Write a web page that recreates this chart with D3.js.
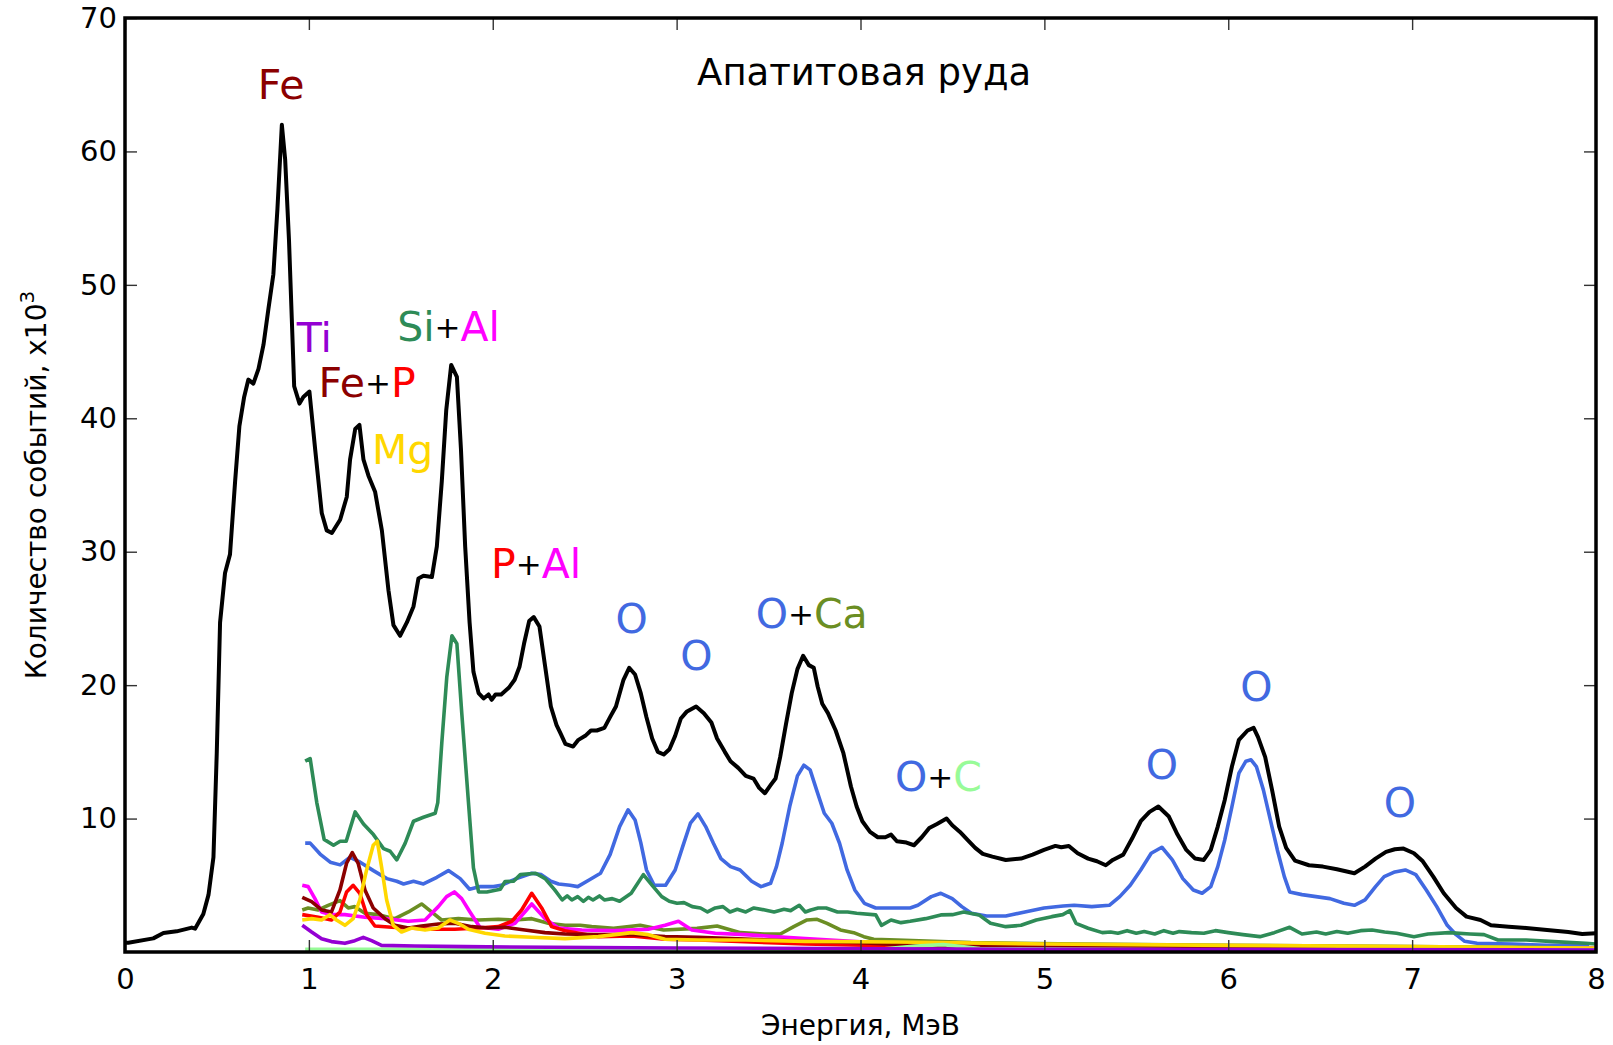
<!DOCTYPE html>
<html>
<head>
<meta charset="utf-8">
<script src="https://cdn.jsdelivr.net/npm/d3@7"></script>
<style>
  body { margin: 0; background: #fff; }
  svg text { font-family: "DejaVu Sans", sans-serif; }
</style>
</head>
<body>
<svg id="drawing_region"></svg>
<script>
// energy (MeV), counts (x10^3)
const totalSpectrum = [[0.00,0.7],[0.018,0.69],[0.154,1.02],[0.209,1.42],[0.281,1.55],[0.363,1.83],[0.381,1.75],[0.426,2.85],[0.454,4.28],[0.481,7.1],[0.499,14.9],[0.517,24.7],[0.544,28.4],[0.571,29.8],[0.599,35.3],[0.622,39.4],[0.648,41.6],[0.671,42.9],[0.698,42.6],[0.726,43.7],[0.753,45.5],[0.780,48.2],[0.807,50.8],[0.829,55.7],[0.853,62.0],[0.871,59.4],[0.892,53.3],[0.907,47.5],[0.920,42.4],[0.949,41.1],[0.970,41.6],[1.003,42.0],[1.034,37.7],[1.070,32.9],[1.097,31.6],[1.125,31.4],[1.170,32.4],[1.206,34.1],[1.224,36.9],[1.252,39.2],[1.275,39.5],[1.297,36.9],[1.324,35.7],[1.360,34.5],[1.397,31.6],[1.433,27.1],[1.460,24.5],[1.496,23.7],[1.533,24.7],[1.569,25.9],[1.596,28.0],[1.623,28.2],[1.669,28.1],[1.696,30.4],[1.723,35.3],[1.747,40.6],[1.774,44.0],[1.805,43.1],[1.827,37.7],[1.850,30.4],[1.874,24.7],[1.895,21.0],[1.923,19.4],[1.950,19.0],[1.977,19.3],[1.994,18.9],[2.015,19.3],[2.046,19.3],[2.087,19.8],[2.119,20.4],[2.146,21.4],[2.170,23.1],[2.198,24.8],[2.223,25.1],[2.254,24.4],[2.285,21.4],[2.316,18.4],[2.347,17.0],[2.368,16.4],[2.395,15.6],[2.437,15.4],[2.466,15.9],[2.503,16.2],[2.534,16.6],[2.566,16.6],[2.607,16.8],[2.638,17.6],[2.670,18.4],[2.711,20.4],[2.742,21.3],[2.774,20.8],[2.805,19.4],[2.836,17.6],[2.867,16.0],[2.898,15.0],[2.930,14.8],[2.961,15.2],[2.992,16.2],[3.023,17.5],[3.054,18.0],[3.106,18.4],[3.148,17.9],[3.189,17.2],[3.220,16.0],[3.262,15.0],[3.293,14.3],[3.335,13.8],[3.376,13.2],[3.418,13.0],[3.449,12.3],[3.480,11.9],[3.511,12.5],[3.538,13.0],[3.563,14.6],[3.595,17.1],[3.626,19.4],[3.657,21.2],[3.688,22.2],[3.719,21.5],[3.746,21.3],[3.767,19.9],[3.792,18.6],[3.823,17.9],[3.865,16.6],[3.907,14.9],[3.948,12.4],[3.979,10.9],[4.010,9.8],[4.052,9.0],[4.094,8.6],[4.135,8.6],[4.166,8.8],[4.198,8.3],[4.250,8.2],[4.291,8.0],[4.333,8.6],[4.374,9.3],[4.416,9.6],[4.468,10.0],[4.499,9.5],[4.541,9.0],[4.582,8.4],[4.624,7.8],[4.665,7.35],[4.717,7.15],[4.790,6.9],[4.873,7.0],[4.936,7.3],[4.998,7.65],[5.060,7.95],[5.092,7.85],[5.133,7.95],[5.181,7.4],[5.238,7.0],[5.286,6.8],[5.334,6.5],[5.372,6.9],[5.429,7.3],[5.477,8.5],[5.524,9.8],[5.572,10.5],[5.620,10.9],[5.677,10.15],[5.724,8.8],[5.772,7.65],[5.820,7.0],[5.867,6.9],[5.905,7.65],[5.943,9.4],[5.981,11.4],[6.020,13.9],[6.058,15.9],[6.105,16.6],[6.138,16.8],[6.162,16.1],[6.201,14.6],[6.239,12.1],[6.277,9.4],[6.315,7.8],[6.363,6.85],[6.439,6.5],[6.515,6.4],[6.591,6.2],[6.686,5.9],[6.744,6.4],[6.801,7.0],[6.858,7.5],[6.906,7.7],[6.953,7.75],[7.010,7.4],[7.058,6.8],[7.115,5.65],[7.172,4.4],[7.239,3.3],[7.296,2.65],[7.372,2.4],[7.429,2.0],[7.525,1.9],[7.620,1.8],[7.734,1.65],[7.849,1.5],[7.925,1.35],[8.0,1.4]];

const oxygen = [[0.980,8.16],[1.007,8.16],[1.061,7.34],[1.116,6.73],[1.170,6.53],[1.224,7.1],[1.279,6.73],[1.351,6.1],[1.424,5.5],[1.478,5.3],[1.515,5.1],[1.569,5.3],[1.623,5.1],[1.696,5.6],[1.759,6.1],[1.823,5.5],[1.874,4.7],[1.932,4.9],[2.004,4.9],[2.046,5.0],[2.129,5.5],[2.212,5.9],[2.264,5.8],[2.316,5.3],[2.358,5.1],[2.420,5.0],[2.462,4.9],[2.524,5.4],[2.586,5.9],[2.638,7.3],[2.690,9.4],[2.736,10.65],[2.774,9.9],[2.805,8.2],[2.836,6.15],[2.878,5.0],[2.940,5.0],[2.992,6.15],[3.033,7.9],[3.075,9.65],[3.116,10.35],[3.158,9.4],[3.200,8.15],[3.241,7.0],[3.293,6.4],[3.345,6.15],[3.408,5.3],[3.459,4.9],[3.511,5.15],[3.543,6.4],[3.574,8.15],[3.615,10.9],[3.657,13.2],[3.692,14.0],[3.726,13.65],[3.761,12.15],[3.803,10.4],[3.844,9.65],[3.886,8.15],[3.927,6.15],[3.969,4.65],[4.021,3.65],[4.083,3.3],[4.166,3.3],[4.270,3.3],[4.312,3.5],[4.385,4.15],[4.437,4.4],[4.499,4.0],[4.551,3.4],[4.603,2.9],[4.686,2.7],[4.790,2.7],[4.894,3.0],[4.998,3.3],[5.102,3.45],[5.162,3.5],[5.258,3.4],[5.353,3.5],[5.410,4.15],[5.467,5.0],[5.524,6.15],[5.581,7.4],[5.639,7.85],[5.696,6.9],[5.753,5.5],[5.810,4.65],[5.858,4.4],[5.905,4.9],[5.943,6.4],[5.981,8.4],[6.020,10.9],[6.058,13.4],[6.096,14.3],[6.124,14.4],[6.153,13.9],[6.191,12.15],[6.229,9.9],[6.267,7.65],[6.305,5.65],[6.334,4.5],[6.401,4.3],[6.477,4.15],[6.553,4.0],[6.629,3.65],[6.686,3.5],[6.744,3.9],[6.801,4.9],[6.848,5.65],[6.906,6.0],[6.963,6.15],[7.020,5.8],[7.077,4.65],[7.134,3.4],[7.191,2.0],[7.239,1.3],[7.286,0.8],[7.353,0.65],[7.544,0.6],[7.734,0.5],[7.963,0.5]];

const silicon = [[0.980,14.3],[1.007,14.5],[1.043,11.2],[1.083,8.44],[1.134,8.0],[1.170,8.3],[1.203,8.3],[1.252,10.5],[1.297,9.6],[1.351,8.8],[1.406,7.75],[1.442,7.55],[1.478,6.9],[1.524,8.16],[1.569,9.8],[1.623,10.1],[1.687,10.4],[1.701,11.2],[1.723,15.7],[1.750,20.6],[1.778,23.7],[1.805,23.1],[1.832,17.8],[1.868,11.2],[1.895,6.3],[1.923,4.5],[1.968,4.5],[2.041,4.7],[2.067,5.28],[2.113,5.3],[2.150,5.8],[2.233,5.9],[2.285,5.5],[2.337,4.65],[2.378,3.9],[2.405,4.2],[2.430,3.9],[2.462,4.15],[2.493,3.8],[2.520,4.1],[2.545,3.9],[2.580,4.2],[2.607,3.9],[2.650,4.0],[2.690,3.8],[2.753,4.4],[2.819,5.8],[2.867,5.0],[2.919,4.15],[2.960,3.8],[3.002,3.65],[3.040,3.7],[3.085,3.4],[3.130,3.3],[3.168,3.0],[3.210,3.3],[3.252,3.4],[3.290,3.0],[3.330,3.2],[3.376,3.0],[3.420,3.3],[3.480,3.15],[3.530,3.0],[3.584,3.2],[3.620,3.1],[3.667,3.5],[3.700,3.0],[3.730,3.15],[3.770,3.3],[3.813,3.3],[3.875,3.0],[3.930,3.0],[3.979,2.9],[4.083,2.78],[4.114,2.0],[4.166,2.4],[4.220,2.2],[4.270,2.3],[4.354,2.5],[4.437,2.78],[4.500,2.8],[4.561,3.0],[4.644,2.78],[4.707,2.15],[4.790,1.9],[4.873,2.0],[4.956,2.4],[5.040,2.65],[5.100,2.8],[5.139,3.1],[5.172,2.15],[5.238,1.78],[5.315,1.45],[5.360,1.5],[5.400,1.4],[5.450,1.6],[5.500,1.4],[5.543,1.53],[5.600,1.35],[5.650,1.6],[5.700,1.4],[5.734,1.53],[5.800,1.45],[5.867,1.4],[5.930,1.6],[6.000,1.45],[6.080,1.3],[6.172,1.15],[6.250,1.45],[6.334,1.85],[6.401,1.35],[6.480,1.5],[6.530,1.35],[6.591,1.53],[6.650,1.4],[6.720,1.6],[6.782,1.65],[6.850,1.5],[6.915,1.4],[7.010,1.15],[7.086,1.35],[7.200,1.45],[7.315,1.35],[7.391,1.3],[7.467,0.9],[7.620,0.9],[7.772,0.78],[7.944,0.65],[8.0,0.6]];

const calcium = [[0.964,3.15],[0.996,3.3],[1.051,3.15],[1.105,3.5],[1.169,3.85],[1.214,3.3],[1.250,3.4],[1.305,2.9],[1.377,2.8],[1.468,2.5],[1.541,3.0],[1.613,3.6],[1.667,3.0],[1.722,2.4],[1.813,2.5],[1.921,2.4],[2.030,2.45],[2.121,2.4],[2.212,2.5],[2.302,2.15],[2.393,2.0],[2.476,2.0],[2.538,1.9],[2.657,1.77],[2.802,2.0],[2.929,1.65],[3.111,1.77],[3.220,1.95],[3.347,1.45],[3.474,1.35],[3.564,1.35],[3.637,1.9],[3.709,2.4],[3.764,2.45],[3.818,2.15],[3.891,1.65],[3.963,1.45],[4.018,1.15],[4.072,0.95],[4.199,0.9],[4.600,0.7],[5.200,0.6],[6.000,0.5],[7.000,0.4],[8.000,0.3]];

const aluminium = [[0.964,5.0],[0.996,4.9],[1.033,4.0],[1.069,3.0],[1.123,2.8],[1.196,2.8],[1.305,2.6],[1.414,2.5],[1.541,2.3],[1.632,2.4],[1.704,3.4],[1.749,4.15],[1.791,4.5],[1.831,4.0],[1.876,3.0],[1.930,1.85],[2.030,1.7],[2.121,2.15],[2.212,3.6],[2.284,2.5],[2.357,1.8],[2.484,1.65],[2.665,1.6],[2.846,1.7],[2.937,2.0],[3.010,2.3],[3.083,1.65],[3.210,1.4],[3.373,1.3],[3.700,1.0],[4.200,0.6],[5.000,0.4],[6.000,0.35],[7.000,0.3],[8.000,0.3]];

const phosphorus = [[0.964,2.8],[1.051,2.6],[1.123,2.4],[1.169,3.0],[1.205,4.5],[1.241,5.0],[1.277,4.4],[1.314,2.8],[1.359,1.95],[1.450,1.85],[1.541,1.8],[1.668,1.7],[1.794,1.7],[1.921,1.8],[2.030,1.9],[2.103,2.3],[2.157,3.15],[2.212,4.4],[2.266,3.3],[2.320,1.9],[2.393,1.6],[2.574,1.15],[2.756,1.2],[2.937,0.95],[3.119,0.9],[3.300,0.8],[3.700,0.6],[4.200,0.45],[5.000,0.3],[6.000,0.25],[7.000,0.2],[8.000,0.2]];

const iron = [[0.964,4.1],[1.015,3.77],[1.069,3.15],[1.123,3.0],[1.169,4.65],[1.205,6.65],[1.236,7.45],[1.268,6.65],[1.305,4.65],[1.350,3.3],[1.414,2.5],[1.468,2.0],[1.541,1.8],[1.613,1.95],[1.704,2.1],[1.794,2.15],[1.885,1.9],[1.976,1.8],[2.066,1.85],[2.175,1.65],[2.284,1.45],[2.393,1.35],[2.574,1.3],[2.756,1.3],[2.937,1.15],[3.119,1.1],[3.300,1.0],[3.700,0.8],[4.000,0.7],[4.300,0.5],[5.000,0.35],[6.000,0.3],[7.000,0.25],[8.000,0.2]];

const magnesium = [[0.964,2.4],[1.015,2.5],[1.069,2.4],[1.114,2.8],[1.150,2.4],[1.196,2.0],[1.241,2.5],[1.277,3.9],[1.314,6.15],[1.350,8.0],[1.372,8.3],[1.395,6.4],[1.423,3.9],[1.459,2.0],[1.504,1.5],[1.559,1.8],[1.632,1.65],[1.704,1.8],[1.767,2.4],[1.813,2.15],[1.867,1.7],[1.958,1.4],[2.066,1.2],[2.212,1.1],[2.393,1.0],[2.574,1.15],[2.756,1.45],[2.846,1.3],[2.937,0.95],[3.119,0.9],[3.373,0.9],[3.700,0.8],[4.200,0.75],[5.000,0.6],[6.000,0.5],[7.000,0.4],[8.000,0.3]];

const titanium = [[0.964,2.0],[1.015,1.5],[1.069,1.0],[1.123,0.78],[1.196,0.65],[1.250,0.85],[1.296,1.1],[1.341,0.85],[1.395,0.5],[1.577,0.45],[1.849,0.4],[3.000,0.3],[5.000,0.2],[8.000,0.15]];

const carbon = [[0.980,0.2],[2.000,0.2],[3.000,0.2],[4.100,0.2],[4.300,0.45],[4.450,0.55],[4.650,0.25],[6.000,0.15],[8.000,0.15]];

const seriesOrder = ['total', 'O', 'Si', 'Ca', 'Al', 'P', 'Fe', 'Mg', 'C', 'Ti'];
const seriesValues = {total: totalSpectrum, O: oxygen, Si: silicon, Ca: calcium, Al: aluminium,
                      P: phosphorus, Fe: iron, Mg: magnesium, C: carbon, Ti: titanium};
const seriesColors = {total: 'black', O: 'royalblue', Si: 'seagreen', Ca: 'olivedrab', Al: 'magenta',
                      P: 'red', Fe: 'darkred', Mg: 'gold', C: 'palegreen', Ti: 'darkviolet'};

const energyTicks = [0, 1, 2, 3, 4, 5, 6, 7, 8];
const countTicks = [10, 20, 30, 40, 50, 60, 70];

// peak labels: text pieces (element key) and where they sit, in MeV / counts
const peakLabels = [
    {e: 0.849, n: 63.9, anchor: 'middle', parts: ['Fe']},
    {e: 0.934, n: 45.0, anchor: 'start', parts: ['Ti']},
    {e: 1.052, n: 41.6, anchor: 'start', parts: ['Fe', '+', 'P']},
    {e: 1.343, n: 36.6, anchor: 'start', parts: ['Mg']},
    {e: 1.480, n: 45.8, anchor: 'start', parts: ['Si', '+', 'Al']},
    {e: 1.990, n: 28.0, anchor: 'start', parts: ['P', '+', 'Al']},
    {e: 2.756, n: 23.9, anchor: 'middle', parts: ['O']},
    {e: 3.107, n: 21.1, anchor: 'middle', parts: ['O']},
    {e: 3.430, n: 24.3, anchor: 'start', parts: ['O', '+', 'Ca']},
    {e: 4.188, n: 12.1, anchor: 'start', parts: ['O', '+', 'C']},
    {e: 5.639, n: 13.0, anchor: 'middle', parts: ['O']},
    {e: 6.153, n: 18.8, anchor: 'middle', parts: ['O']},
    {e: 6.934, n: 10.1, anchor: 'middle', parts: ['O']}
];
const partColors = {Fe: 'darkred', Ti: 'darkviolet', P: 'red', Mg: 'gold', Si: 'seagreen', Al: 'magenta',
                    O: 'royalblue', Ca: 'olivedrab', C: 'palegreen', '+': 'black'};

class SpectrumChart {
    constructor(config) {
        this.config = config;
        this.init();
    }

    init() {
        let self = this;
        const m = self.config.margin;

        self.svg = d3.select(self.config.parent)
            .attr('width', self.config.width)
            .attr('height', self.config.height);

        self.inner_width = self.config.width - m.left - m.right;
        self.inner_height = self.config.height - m.top - m.bottom;

        self.chart = self.svg.append('g')
            .attr('transform', `translate(${m.left}, ${m.top})`);

        self.xscale = d3.scaleLinear().domain([0, 8]).range([0, self.inner_width]);
        self.yscale = d3.scaleLinear().domain([0, 70]).range([self.inner_height, 0]);

        self.line = d3.line()
            .x(d => self.xscale(d[0]))
            .y(d => self.yscale(d[1]));
    }

    render() {
        let self = this;
        const w = self.inner_width, h = self.inner_height;

        self.chart.selectAll('.spectrum')
            .data(seriesOrder)
            .join('path')
            .attr('class', 'spectrum')
            .attr('d', k => self.line(seriesValues[k]))
            .attr('fill', 'none')
            .attr('stroke', k => seriesColors[k])
            .attr('stroke-width', k => k == 'total' ? 4 : 3.6)
            .attr('stroke-linejoin', 'round');

        // inward ticks on all four sides
        const tickLen = 12;
        const xb = d3.axisBottom(self.xscale).tickValues(energyTicks).tickSize(-tickLen).tickPadding(16).tickFormat(d3.format('d'));
        const xt = d3.axisTop(self.xscale).tickValues(energyTicks).tickSize(-tickLen).tickFormat('');
        const yl = d3.axisLeft(self.yscale).tickValues(countTicks).tickSize(-tickLen).tickPadding(8);
        const yr = d3.axisRight(self.yscale).tickValues(countTicks).tickSize(-tickLen).tickFormat('');

        const axes = [
            self.chart.append('g').attr('transform', `translate(0, ${h})`).call(xb),
            self.chart.append('g').call(xt),
            self.chart.append('g').call(yl),
            self.chart.append('g').attr('transform', `translate(${w}, 0)`).call(yr)
        ];
        axes.forEach(a => {
            a.select('.domain').remove();
            a.selectAll('.tick line').attr('stroke', '#333').attr('stroke-width', 1.4);
            a.selectAll('.tick text').attr('font-size', '29px').attr('fill', 'black')
                .attr('font-family', '"DejaVu Sans", sans-serif');
        });

        self.chart.append('rect')
            .attr('width', w).attr('height', h)
            .attr('fill', 'none')
            .attr('stroke', 'black')
            .attr('stroke-width', 3.5);

        // peak labels; the plus sign is set a little smaller and raised, as in the picture
        peakLabels.forEach(lb => {
            const t = self.chart.append('text')
                .attr('x', self.xscale(lb.e))
                .attr('y', self.yscale(lb.n))
                .attr('text-anchor', lb.anchor)
                .attr('font-size', '41px');
            lb.parts.forEach((p, i) => {
                const prev = i > 0 ? lb.parts[i - 1] : null;
                t.append('tspan')
                    .attr('fill', partColors[p])
                    .attr('font-size', p == '+' ? '31px' : null)
                    .attr('dy', p == '+' ? -3 : (prev == '+' ? 3 : null))
                    .text(p);
            });
        });

        self.chart.append('text')
            .attr('x', self.xscale(4.02))
            .attr('y', self.yscale(65.0))
            .attr('text-anchor', 'middle')
            .attr('font-size', '37px')
            .text(self.config.title);

        self.svg.append('text')
            .attr('x', self.config.margin.left + w / 2)
            .attr('y', 1035)
            .attr('text-anchor', 'middle')
            .attr('font-size', '28px')
            .text('Энергия, МэВ');

        const ylab = self.svg.append('text')
            .attr('transform', `translate(46, ${self.config.margin.top + h / 2}) rotate(-90)`)
            .attr('text-anchor', 'middle')
            .attr('font-size', '28px')
            .text('Количество событий, x10');
        ylab.append('tspan')
            .attr('dy', -12)
            .attr('font-size', '20px')
            .text('3');
    }
}

const chart = new SpectrumChart({
    parent: '#drawing_region',
    width: 1613,
    height: 1045,
    margin: {top: 18, right: 17, bottom: 93, left: 125},
    title: 'Апатитовая руда'
});
chart.render();
</script>
</body>
</html>
